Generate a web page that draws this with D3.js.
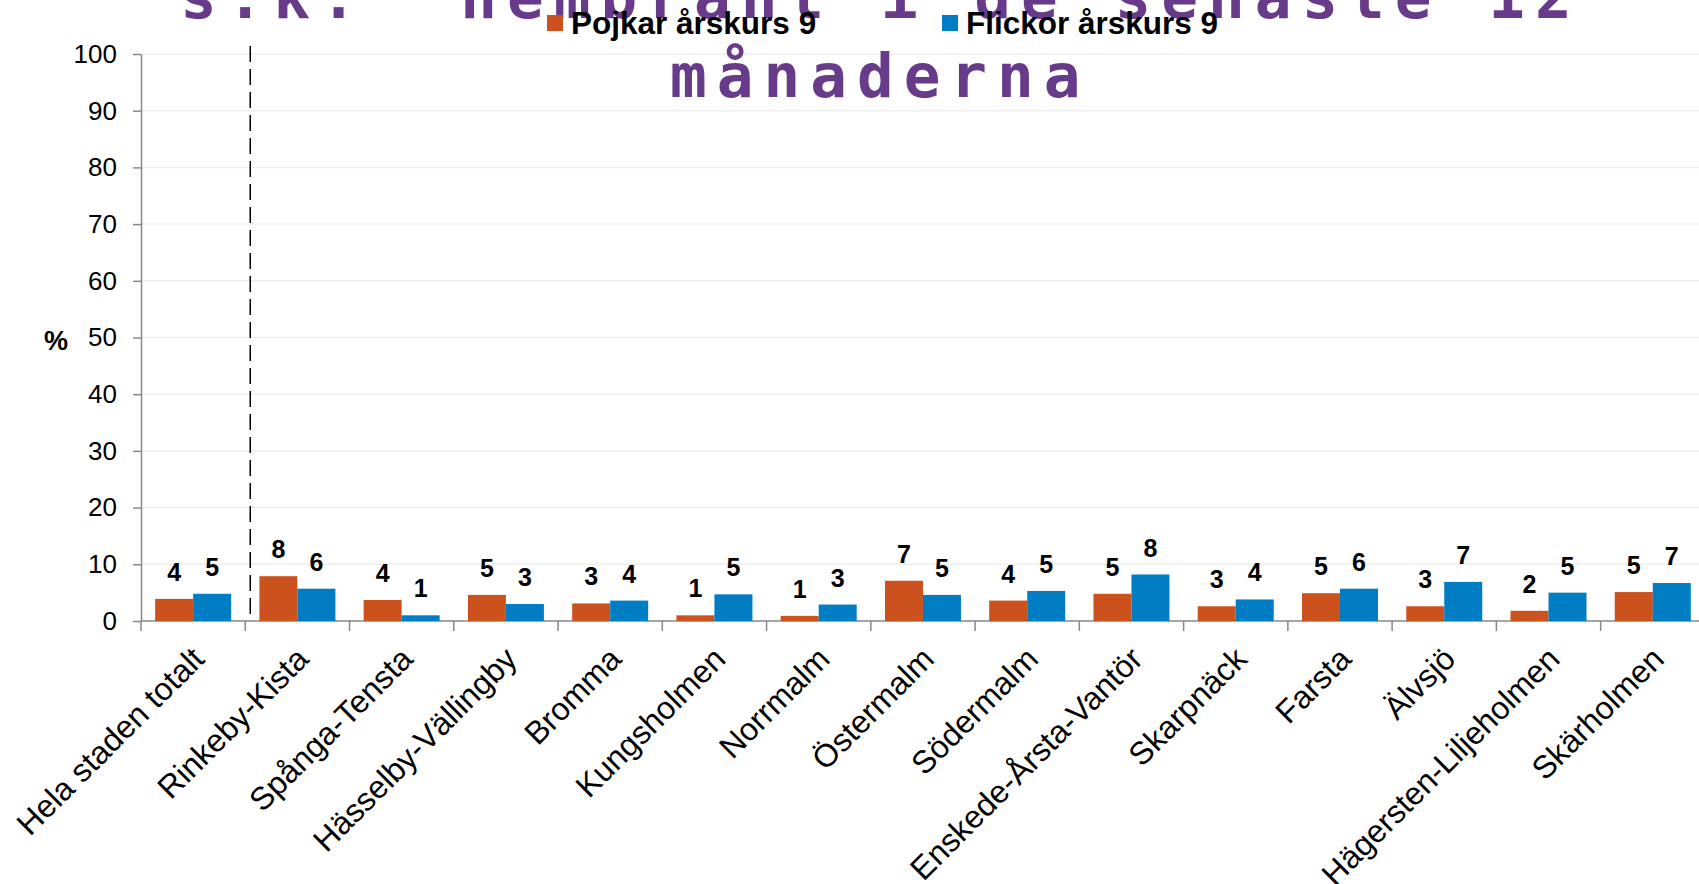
<!DOCTYPE html>
<html>
<head>
<meta charset="utf-8">
<script src="https://cdn.jsdelivr.net/npm/d3@7"></script>
<style>
  body { margin: 0; background: #fff; overflow: hidden; }
  svg { display: block; }
  text { font-family: "Liberation Sans", Arial, sans-serif; }
</style>
</head>
<body>
<div id="chart"></div>
<script>
// data
var categories = ["Hela staden totalt", "Rinkeby-Kista", "Spånga-Tensta", "Hässelby-Vällingby",
  "Bromma", "Kungsholmen", "Norrmalm", "Östermalm", "Södermalm", "Enskede-Årsta-Vantör",
  "Skarpnäck", "Farsta", "Älvsjö", "Hägersten-Liljeholmen", "Skärholmen"];
var seriesNames = ["Pojkar årskurs 9", "Flickor årskurs 9"];
var pojkar = [3.9, 7.9, 3.7, 4.6, 3.1, 1.0, 0.9, 7.1, 3.6, 4.8, 2.6, 4.9, 2.6, 1.8, 5.1];
var flickor = [4.8, 5.7, 1.0, 3.0, 3.6, 4.7, 2.9, 4.6, 5.3, 8.2, 3.8, 5.7, 6.9, 5.0, 6.7];
var yTicks = [0, 10, 20, 30, 40, 50, 60, 70, 80, 90, 100];
var titleLines = ["s.k.  hembränt i de senaste 12", "månaderna"];
var colors = ["#CB511D", "#007DC3"];

var svgWidth = 1699;
var svgHeight = 884;

var margin = { top: 54, left: 141, bottom: 263 };
var chartHeight = svgHeight - margin.top - margin.bottom;
var step = 104.26;
var chartWidth = step * categories.length;

var svg = d3.select("#chart").append("svg")
  .attr("width", svgWidth)
  .attr("height", svgHeight);

var chartGroup = svg.append("g")
  .attr("transform", `translate(${margin.left}, ${margin.top})`);

var yScale = d3.scaleLinear()
  .domain([0, 100])
  .range([chartHeight, 0]);

// one band per district, bars sit inside it
var x0 = d3.scaleBand()
  .domain(categories)
  .range([0, chartWidth])
  .padding(0);

var x1 = d3.scaleBand()
  .domain(seriesNames)
  .range([0, x0.bandwidth()])
  .paddingInner(0)
  .paddingOuter(0.372);

// gridlines
chartGroup.append("g")
  .selectAll("line")
  .data(yTicks.filter(d => d > 0))
  .enter()
  .append("line")
  .attr("x1", 0)
  .attr("x2", svgWidth - margin.left)
  .attr("y1", d => yScale(d))
  .attr("y2", d => yScale(d))
  .attr("stroke", "#EEEEEE")
  .attr("stroke-width", 1.5);

// y axis
var yAxis = d3.axisLeft(yScale)
  .tickValues(yTicks)
  .tickSize(8)
  .tickSizeOuter(0)
  .tickPadding(16);

var yAxisGroup = chartGroup.append("g").call(yAxis);
yAxisGroup.select(".domain").attr("stroke", "#888").attr("stroke-width", 1.5);
yAxisGroup.selectAll(".tick line").attr("stroke", "#888").attr("stroke-width", 1.5);
yAxisGroup.selectAll(".tick text")
  .attr("font-family", "Liberation Sans, Arial, sans-serif")
  .attr("font-size", 26)
  .attr("fill", "#000");

// x axis: line plus ticks on the band edges
chartGroup.append("line")
  .attr("x1", 0)
  .attr("x2", chartWidth)
  .attr("y1", chartHeight)
  .attr("y2", chartHeight)
  .attr("stroke", "#888")
  .attr("stroke-width", 1.5);

var edges = categories.map(c => x0(c)).concat([chartWidth]);
chartGroup.append("g")
  .selectAll("line")
  .data(edges)
  .enter()
  .append("line")
  .attr("x1", d => d)
  .attr("x2", d => d)
  .attr("y1", chartHeight)
  .attr("y2", chartHeight + 10)
  .attr("stroke", "#888")
  .attr("stroke-width", 1.5);

// category labels, rotated
var xAxis = d3.axisBottom(x0).tickSize(0);
var xAxisGroup = chartGroup.append("g")
  .attr("transform", `translate(0, ${chartHeight})`)
  .call(xAxis);
xAxisGroup.select(".domain").remove();
xAxisGroup.selectAll(".tick text")
  .attr("font-family", "Liberation Sans, Arial, sans-serif")
  .attr("font-size", 32)
  .attr("fill", "#000")
  .attr("text-anchor", "end")
  .attr("x", 0)
  .attr("y", 0)
  .attr("dy", 0)
  .attr("transform", "translate(13, 40) rotate(-45)");

// dashed separator after the city total
chartGroup.append("line")
  .attr("x1", x0(categories[1]) + 5)
  .attr("x2", x0(categories[1]) + 5)
  .attr("y1", -8)
  .attr("y2", chartHeight)
  .attr("stroke", "#000")
  .attr("stroke-width", 1.5)
  .attr("stroke-dasharray", "16,7");

// bars
var rows = categories.map((c, i) => ({ cat: c, values: [pojkar[i], flickor[i]] }));

var groups = chartGroup.selectAll(".cat")
  .data(rows)
  .enter()
  .append("g")
  .attr("class", "cat")
  .attr("transform", d => `translate(${x0(d.cat)}, 0)`);

groups.selectAll("rect")
  .data(d => d.values.map((v, j) => ({ name: seriesNames[j], value: v, j: j })))
  .enter()
  .append("rect")
  .attr("x", d => x1(d.name))
  .attr("y", d => yScale(d.value))
  .attr("width", x1.bandwidth())
  .attr("height", d => chartHeight - yScale(d.value))
  .attr("fill", d => colors[d.j]);

groups.selectAll("text.val")
  .data(d => d.values.map((v, j) => ({ name: seriesNames[j], value: v })))
  .enter()
  .append("text")
  .attr("class", "val")
  .attr("x", d => x1(d.name) + x1.bandwidth() / 2)
  .attr("y", d => yScale(d.value) - 18)
  .attr("text-anchor", "middle")
  .attr("font-size", 25)
  .attr("font-weight", "bold")
  .text(d => d3.format(".0f")(d.value));

// % label
svg.append("text")
  .attr("x", 56)
  .attr("y", 350)
  .attr("text-anchor", "middle")
  .attr("font-size", 27)
  .attr("font-weight", "bold")
  .text("%");

// title, top line runs off the page
svg.selectAll("text.title")
  .data(titleLines)
  .enter()
  .append("text")
  .attr("class", "title")
  .attr("x", (d, i) => i == 0 ? 180 : 670)
  .attr("y", (d, i) => i == 0 ? 18 : 97)
  .style("font-family", "'DejaVu Sans Mono', monospace")
  .style("white-space", "pre")
  .attr("font-size", 61)
  .attr("font-weight", "bold")
  .attr("letter-spacing", 10)
  .attr("fill", "#673A8A")
  .text(d => d);

// legend
var legendX = [547, 942];
var legend = svg.selectAll(".legend")
  .data(seriesNames)
  .enter()
  .append("g")
  .attr("class", "legend")
  .attr("transform", (d, i) => `translate(${legendX[i]}, 15)`);

legend.append("rect")
  .attr("width", 16)
  .attr("height", 16)
  .attr("fill", (d, i) => colors[i]);

legend.append("text")
  .attr("x", 24)
  .attr("y", 19)
  .attr("font-size", 31.5)
  .attr("font-weight", "bold")
  .text(d => d);
</script>
</body>
</html>
